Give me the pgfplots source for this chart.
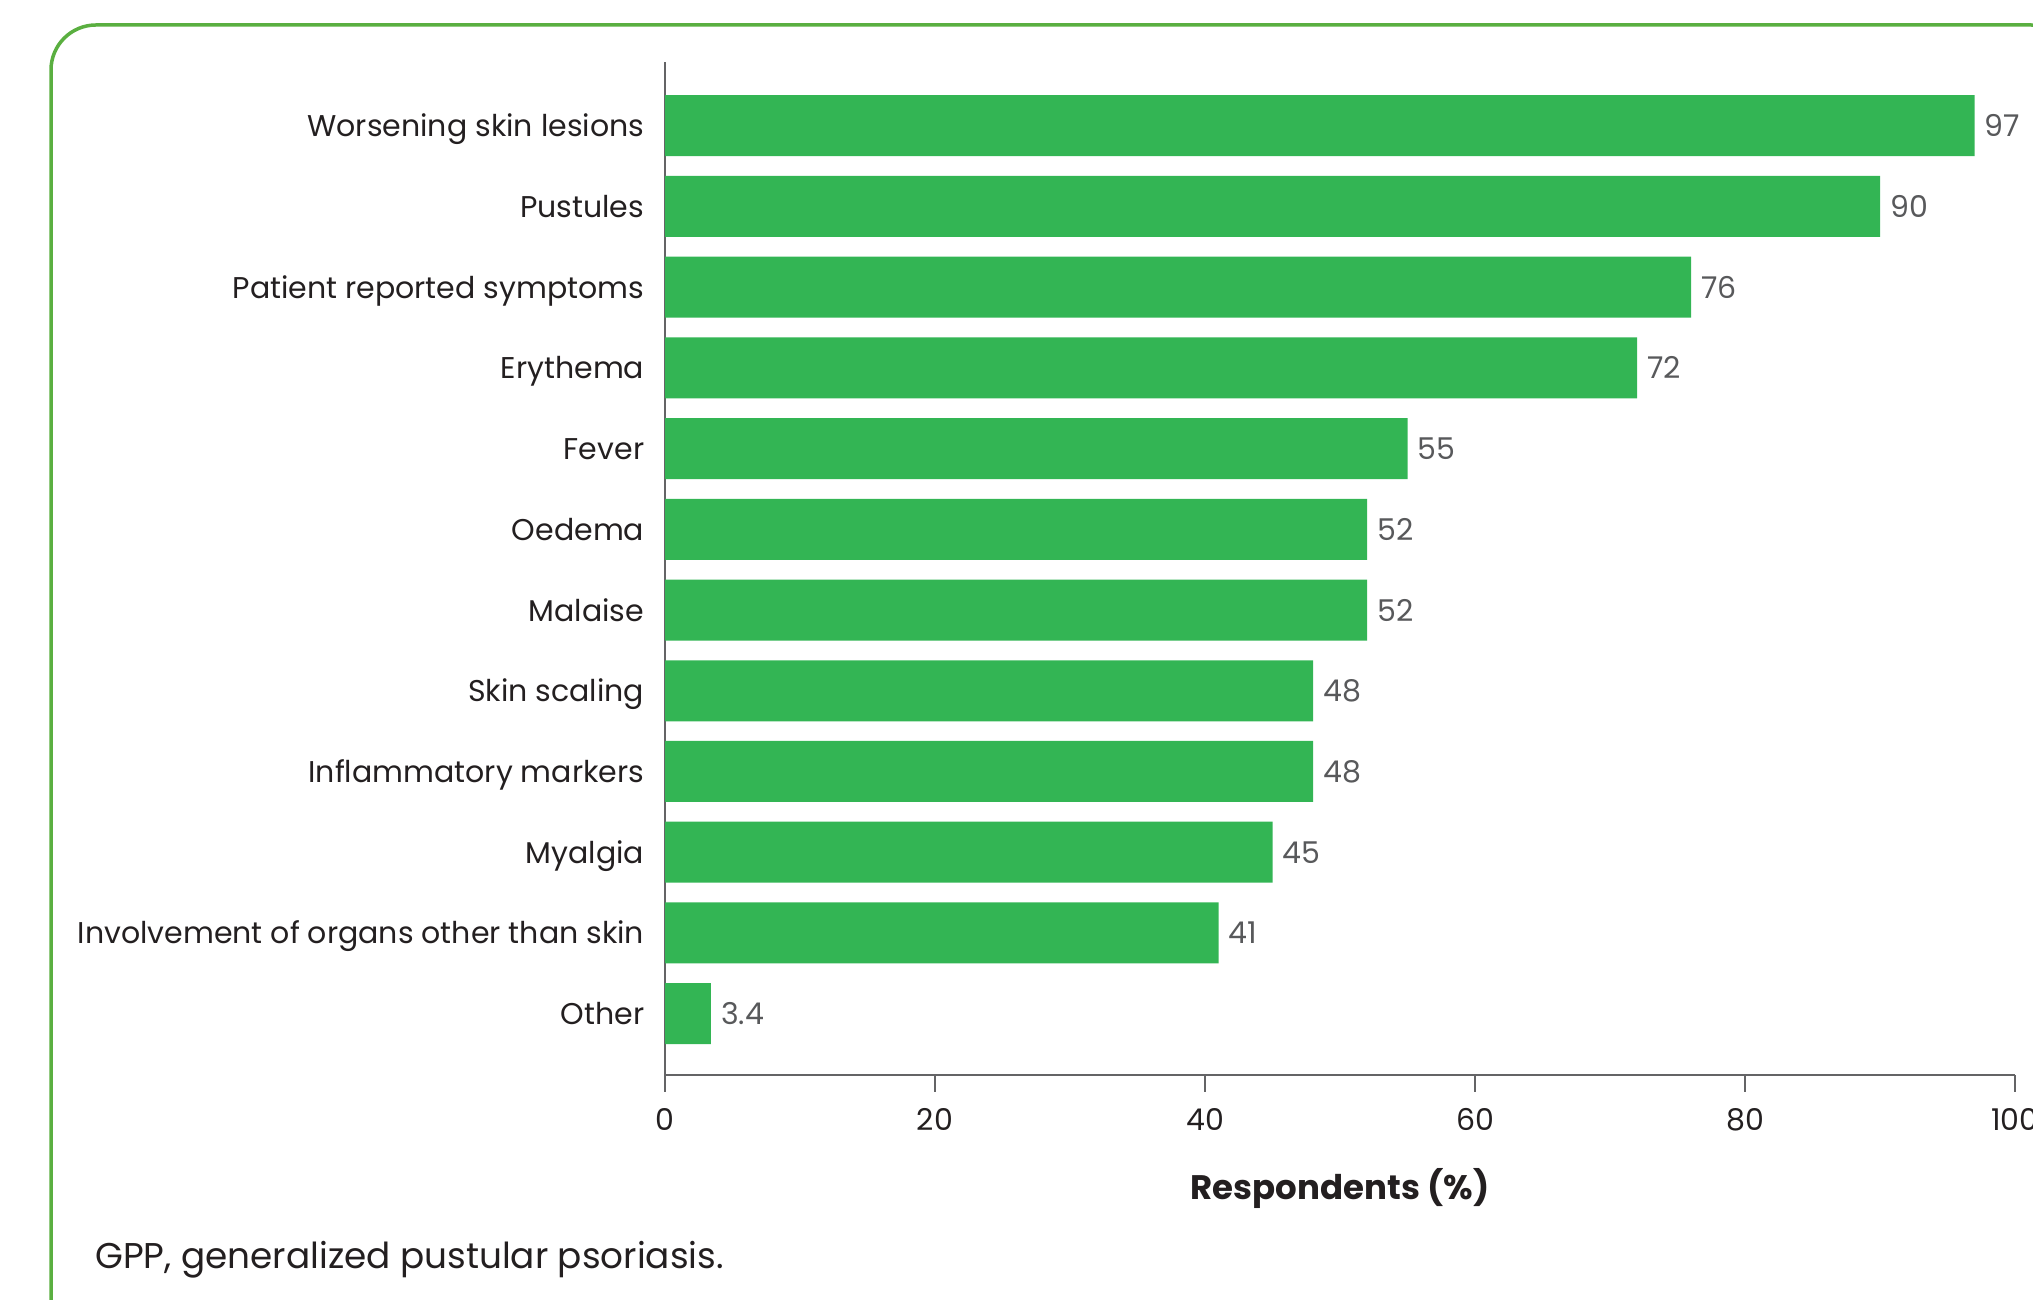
\documentclass[border=0pt]{standalone}
\usepackage{pgfplots}
\pgfplotsset{compat=1.18}
\usepackage{fontspec}
\setmainfont{Poppins}
\definecolor{bargreen}{RGB}{51,181,84}
\definecolor{framegreen}{RGB}{90,175,64}
\definecolor{axisgray}{RGB}{100,100,102}
\definecolor{txt}{RGB}{35,31,32}
\definecolor{valgray}{RGB}{88,89,91}
\newcommand{\lblfont}{\fontsize{15pt}{18pt}\selectfont}
\newcommand{\xlfont}{\fontsize{17pt}{20pt}\selectfont}
\newcommand{\capfont}{\fontsize{17.9pt}{21pt}\selectfont}
\begin{document}
\begin{tikzpicture}
\useasboundingbox (0,0) rectangle (1016.5pt,650pt);
\begin{scope}
\clip (0,0) rectangle (1016.5pt,650pt);
\draw[framegreen, line width=1.75pt, rounded corners=22.5pt] (25.5pt,-21pt) rectangle (1038pt,637.5pt);
\end{scope}
\begin{axis}[
  at={(332.5pt,112.5pt)}, anchor=south west,
  scale only axis, width=675pt, height=506.5pt,
  xbar, bar width=30.5pt,
  xmin=0, xmax=100, ymin=-0.76, ymax=11.79,
  enlargelimits=false, clip=false,
  axis x line*=bottom, axis y line*=left,
  axis line style={axisgray, line width=0.8pt},
  xtick={0,20,40,60,80,100},
  ytick={0,1,2,3,4,5,6,7,8,9,10,11},
  yticklabels={Other, Involvement of organs other than skin, Myalgia, Inflammatory markers, Skin scaling, Malaise, Oedema, Fever, Erythema, Patient reported symptoms, Pustules, Worsening skin lesions},
  tick align=outside, major tick length=8.5pt,
  ytick style={draw=none},
  xtick style={axisgray, line width=0.8pt},
  /pgf/number format/assume math mode=true,
  xticklabel style={font=\lblfont, text=txt, yshift=-4.5pt},
  yticklabel style={font=\lblfont, text=txt, inner sep=0pt, anchor=east, xshift=-1.7pt, text height=11pt, text depth=0pt},
  nodes near coords, point meta=x,
  nodes near coords style={anchor=west, inner sep=0pt, xshift=5pt, font=\lblfont, text=valgray, text height=11pt, text depth=0pt},
  xlabel={\bfseries Respondents (\%)},
  xlabel style={at={(axis description cs:0.5,0)}, anchor=center, yshift=-57pt, font=\xlfont, text=txt},
]
\addplot[fill=bargreen, draw=none] coordinates {
(3.4,0) (41,1) (45,2) (48,3) (48,4) (52,5) (52,6) (55,7) (72,8) (76,9) (90,10) (97,11)
};
\end{axis}
\node[anchor=base west, inner sep=0pt, text=txt, font=\capfont] at (47.5pt,16pt) {GPP, generalized pustular psoriasis.};
\end{tikzpicture}
\end{document}
